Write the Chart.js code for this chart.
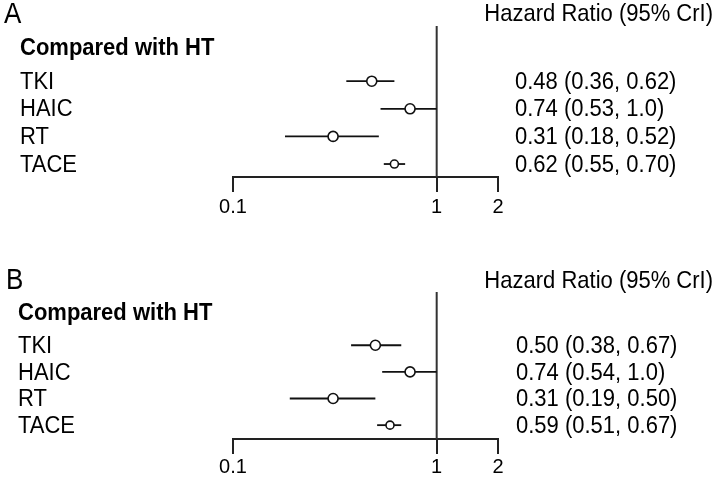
<!DOCTYPE html>
<html>
<head>
<meta charset="utf-8">
<script src="https://cdn.jsdelivr.net/npm/chart.js@4/dist/chart.umd.min.js"></script>
<style>
  html, body { margin: 0; padding: 0; background: #fff; }
  canvas { display: block; position: absolute; left: 0; }
  #chartA { top: 0; }
  #chartB { top: 240px; }
</style>
</head>
<body>
<canvas id="chartA" width="720" height="240"></canvas>
<canvas id="chartB" width="720" height="239"></canvas>
<script>
// data
const rowLabels = ['TKI', 'HAIC', 'RT', 'TACE'];
const rowPos = [1, 2, 3, 4];
const tickValues = [0.1, 1, 2];

const hrA = [0.48, 0.74, 0.31, 0.62];
const lowA = [0.36, 0.53, 0.18, 0.55];
const highA = [0.62, 1.0, 0.52, 0.70];
const textA = ['0.48 (0.36, 0.62)', '0.74 (0.53, 1.0)', '0.31 (0.18, 0.52)', '0.62 (0.55, 0.70)'];

const hrB = [0.50, 0.74, 0.31, 0.59];
const lowB = [0.38, 0.54, 0.19, 0.51];
const highB = [0.67, 1.0, 0.50, 0.67];
const textB = ['0.50 (0.38, 0.67)', '0.74 (0.54, 1.0)', '0.31 (0.19, 0.50)', '0.59 (0.51, 0.67)'];

const FONT = "'Liberation Sans', Arial, sans-serif";

// the source text is a little taller than plain Arial
function tallText(c, t, x, y) {
  c.save();
  c.translate(x, y);
  c.scale(1, 1.1);
  c.fillText(t, 0, 0);
  c.restore();
}

function makeForest(id, opts) {
  const ctx = document.getElementById(id).getContext('2d');

  const ciSets = rowPos.map((r, i) => ({
    data: [{ x: opts.low[i], y: r }, { x: opts.high[i], y: r }],
    showLine: true,
    borderColor: '#111',
    borderWidth: 1.8,
    pointRadius: 0,
    clip: false,
    order: 2
  }));

  const refLine = {
    data: [{ x: 1, y: -1 }, { x: 1, y: opts.yMax }],
    showLine: true,
    borderColor: '#333',
    borderWidth: 2,
    pointRadius: 0,
    clip: false,
    order: 3
  };

  const points = {
    data: rowPos.map((r, i) => ({ x: opts.hr[i], y: r })),
    pointRadius: [5, 5, 5, 4],
    pointBackgroundColor: '#fff',
    pointBorderColor: '#111',
    pointBorderWidth: 1.6,
    clip: false,
    order: 1
  };

  const textPlugin = {
    id: 'forestText',
    afterDraw(chart) {
      const c = chart.ctx;
      const y = chart.scales.y;
      c.save();
      c.fillStyle = '#000';
      c.textBaseline = 'middle';

      // panel letter
      c.font = '26px ' + FONT;
      c.textAlign = 'left';
      tallText(c, opts.letter, opts.letterX, y.getPixelForValue(-1.41));

      // header right
      c.font = '22px ' + FONT;
      c.textAlign = 'right';
      tallText(c, 'Hazard Ratio (95% CrI)', 713, y.getPixelForValue(-1.41));

      // group header
      c.font = 'bold 22px ' + FONT;
      c.textAlign = 'left';
      tallText(c, 'Compared with HT', opts.labelX, y.getPixelForValue(-0.2));

      // row labels and values
      c.font = '22px ' + FONT;
      rowPos.forEach((r, i) => {
        const py = y.getPixelForValue(r) + 1;
        tallText(c, rowLabels[i], opts.labelX, py);
        tallText(c, opts.text[i], opts.valueX, py);
      });
      c.restore();
    }
  };

  return new Chart(ctx, {
    type: 'scatter',
    data: { datasets: [points, ...ciSets, refLine] },
    plugins: [textPlugin],
    options: {
      responsive: false,
      animation: false,
      layout: { padding: { left: 233, right: 222, top: opts.top, bottom: 0 } },
      plugins: { legend: { display: false }, tooltip: { enabled: false } },
      scales: {
        x: {
          type: 'logarithmic',
          min: 0.1,
          max: 2,
          afterBuildTicks: (scale) => { scale.ticks = tickValues.map(v => ({ value: v })); },
          afterFit: (scale) => { scale.height = opts.axisHeight; },
          border: { display: true, color: '#222', width: 2 },
          grid: { drawOnChartArea: false, drawTicks: true, tickLength: 15, color: '#222', lineWidth: 2 },
          ticks: {
            autoSkip: false,
            maxRotation: 0,
            padding: opts.tickPad,
            color: '#000',
            font: { family: FONT, size: 20 },
            callback: (v) => String(v)
          }
        },
        y: {
          type: 'linear',
          reverse: true,
          min: -1,
          max: opts.yMax,
          display: false
        }
      }
    }
  });
}

makeForest('chartA', {
  hr: hrA, low: lowA, high: highA, text: textA,
  letter: 'A', letterX: 4, labelX: 20, valueX: 515,
  top: 26, yMax: 4.47, axisHeight: 63, tickPad: 3
});

makeForest('chartB', {
  hr: hrB, low: lowB, high: highB, text: textB,
  letter: 'B', letterX: 6, labelX: 18, valueX: 516,
  top: 52, yMax: 4.52, axisHeight: 40, tickPad: 1
});
</script>
</body>
</html>
